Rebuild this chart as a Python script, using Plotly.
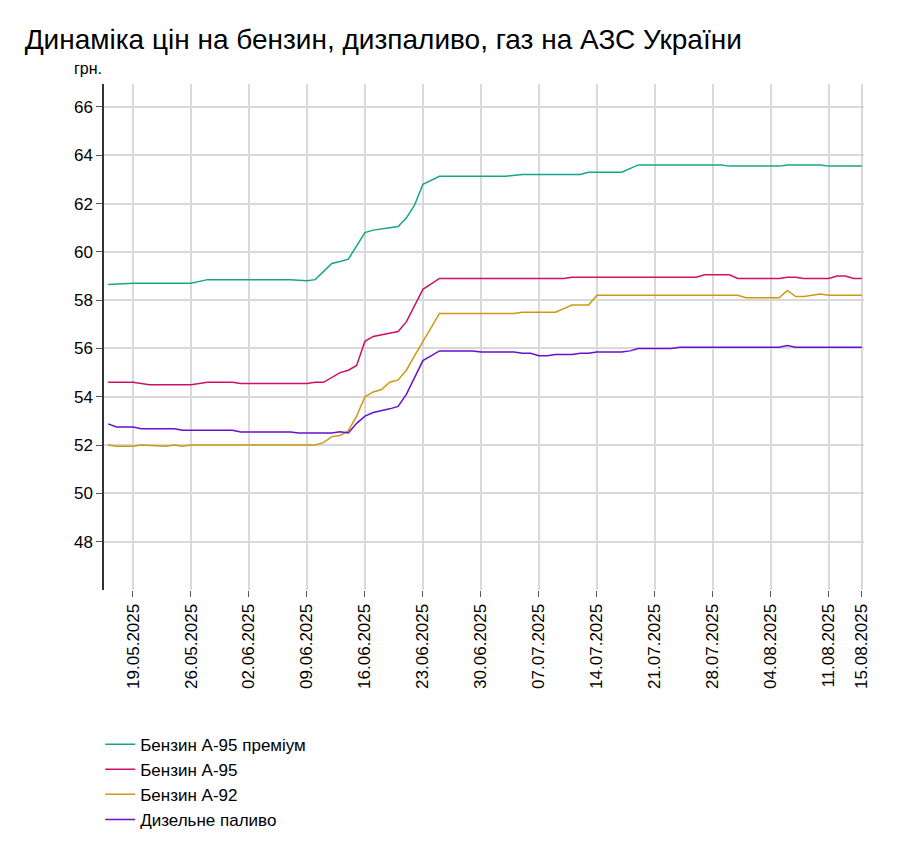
import plotly.graph_objects as go

premium_dates = ["2025-05-16", "2025-05-19", "2025-05-26", "2025-05-28", "2025-06-07", "2025-06-09", "2025-06-10",
                 "2025-06-12", "2025-06-13", "2025-06-14", "2025-06-16", "2025-06-17", "2025-06-19", "2025-06-20",
                 "2025-06-21", "2025-06-22", "2025-06-23", "2025-06-25", "2025-07-03", "2025-07-05", "2025-07-12",
                 "2025-07-13", "2025-07-17", "2025-07-19", "2025-07-29", "2025-07-30", "2025-08-05", "2025-08-06",
                 "2025-08-10", "2025-08-11", "2025-08-15"]
premium_vals = [58.65, 58.7, 58.7, 58.85, 58.85, 58.8, 58.85,
                59.52, 59.6, 59.7, 60.8, 60.9, 61.0, 61.05,
                61.4, 61.94, 62.8, 63.13, 63.13, 63.2, 63.2,
                63.3, 63.3, 63.6, 63.6, 63.55, 63.55, 63.6,
                63.6, 63.55, 63.55]

a95_dates = ["2025-05-16", "2025-05-19", "2025-05-21", "2025-05-26", "2025-05-28", "2025-05-31", "2025-06-01",
             "2025-06-09", "2025-06-10", "2025-06-11", "2025-06-13", "2025-06-14", "2025-06-15", "2025-06-16",
             "2025-06-17", "2025-06-19", "2025-06-20", "2025-06-21", "2025-06-22", "2025-06-23", "2025-06-25",
             "2025-07-10", "2025-07-11", "2025-07-26", "2025-07-27", "2025-07-30", "2025-07-31", "2025-08-05",
             "2025-08-06", "2025-08-07", "2025-08-08", "2025-08-11", "2025-08-12", "2025-08-13", "2025-08-14",
             "2025-08-15"]
a95_vals = [54.6, 54.6, 54.5, 54.5, 54.6, 54.6, 54.55,
            54.55, 54.6, 54.6, 55.0, 55.1, 55.3, 56.3,
            56.5, 56.65, 56.7, 57.1, 57.8, 58.45, 58.9,
            58.9, 58.95, 58.95, 59.05, 59.05, 58.9, 58.9,
            58.95, 58.95, 58.9, 58.9, 59.0, 59.0, 58.9,
            58.9]

a92_dates = ["2025-05-16", "2025-05-17", "2025-05-19", "2025-05-20", "2025-05-23", "2025-05-24", "2025-05-25",
             "2025-05-26", "2025-06-10", "2025-06-11", "2025-06-12", "2025-06-13", "2025-06-14", "2025-06-15",
             "2025-06-16", "2025-06-17", "2025-06-18", "2025-06-19", "2025-06-20", "2025-06-21", "2025-06-22",
             "2025-06-23", "2025-06-25", "2025-07-04", "2025-07-05", "2025-07-09", "2025-07-11", "2025-07-13",
             "2025-07-14", "2025-07-31", "2025-08-01", "2025-08-05", "2025-08-06", "2025-08-07", "2025-08-08",
             "2025-08-10", "2025-08-11", "2025-08-15"]
a92_vals = [52.0, 51.95, 51.95, 52.0, 51.95, 52.0, 51.95,
            52.0, 52.0, 52.1, 52.35, 52.4, 52.6, 53.2,
            54.0, 54.2, 54.3, 54.6, 54.7, 55.1, 55.7,
            56.3, 57.45, 57.45, 57.5, 57.5, 57.8, 57.8,
            58.2, 58.2, 58.1, 58.1, 58.4, 58.15, 58.15,
            58.25, 58.2, 58.2]

diesel_dates = ["2025-05-16", "2025-05-17", "2025-05-19", "2025-05-20", "2025-05-24", "2025-05-25", "2025-05-31",
                "2025-06-01", "2025-06-07", "2025-06-08", "2025-06-12", "2025-06-13", "2025-06-14", "2025-06-15",
                "2025-06-16", "2025-06-17", "2025-06-19", "2025-06-20", "2025-06-21", "2025-06-22", "2025-06-23",
                "2025-06-25", "2025-06-29", "2025-06-30", "2025-07-04", "2025-07-05", "2025-07-06", "2025-07-07",
                "2025-07-08", "2025-07-09", "2025-07-11", "2025-07-12", "2025-07-13", "2025-07-14", "2025-07-17",
                "2025-07-18", "2025-07-19", "2025-07-23", "2025-07-24", "2025-08-05", "2025-08-06", "2025-08-07",
                "2025-08-15"]
diesel_vals = [52.88, 52.75, 52.75, 52.68, 52.68, 52.61, 52.61,
               52.54, 52.54, 52.5, 52.5, 52.55, 52.5, 52.9,
               53.2, 53.35, 53.5, 53.6, 54.1, 54.8, 55.5,
               55.9, 55.9, 55.85, 55.85, 55.8, 55.8, 55.7,
               55.7, 55.75, 55.75, 55.8, 55.8, 55.85, 55.85,
               55.9, 56.0, 56.0, 56.05, 56.05, 56.12, 56.05,
               56.05]

series = [
    ("Бензин А-95 преміум", premium_dates, premium_vals, "#16a589"),
    ("Бензин А-95", a95_dates, a95_vals, "#cc1166"),
    ("Бензин А-92", a92_dates, a92_vals, "#cc9911"),
    ("Дизельне паливо", diesel_dates, diesel_vals, "#6611cc"),
]

tick_dates = ["2025-05-19", "2025-05-26", "2025-06-02", "2025-06-09", "2025-06-16", "2025-06-23", "2025-06-30",
              "2025-07-07", "2025-07-14", "2025-07-21", "2025-07-28", "2025-08-04", "2025-08-11", "2025-08-15"]
tick_text = ["19.05.2025", "26.05.2025", "02.06.2025", "09.06.2025", "16.06.2025", "23.06.2025", "30.06.2025",
             "07.07.2025", "14.07.2025", "21.07.2025", "28.07.2025", "04.08.2025", "11.08.2025", "15.08.2025"]

fig = go.Figure()
for name, d, v, c in series:
    fig.add_trace(go.Scatter(x=d, y=v, mode="lines", name=name, line=dict(color=c, width=1.5)))

fig.update_layout(
    width=924, height=841,
    font=dict(family="Liberation Sans, Arial", size=17, color="#000"),
    title=dict(text="Динаміка цін на бензин, дизпаливо, газ на АЗС України", x=0.018, y=0.975,
               xanchor="left", font=dict(size=28)),
    plot_bgcolor="white", paper_bgcolor="white",
    margin=dict(l=96, r=68, t=76, b=241),
    legend=dict(orientation="v", x=-0.005, y=-0.27, xanchor="left", yanchor="top", font=dict(size=17),
                tracegroupgap=0),
    annotations=[dict(text="грн.", xref="paper", yref="paper", x=0, y=1.01, xanchor="right",
                      yanchor="bottom", showarrow=False, font=dict(size=16))],
)
fig.update_xaxes(range=["2025-05-15 12:00", "2025-08-15 06:00"], tickvals=tick_dates, ticktext=tick_text,
                 tickangle=-90, showgrid=True, gridcolor="#d9d9d9", gridwidth=1.5, ticks="outside",
                 ticklen=6, tickcolor="#555", showline=False, zeroline=False)
fig.update_yaxes(range=[46, 66.95], tickvals=[48, 50, 52, 54, 56, 58, 60, 62, 64, 66], showgrid=True,
                 gridcolor="#d9d9d9", gridwidth=1.5, ticks="outside", ticklen=6, tickcolor="#555",
                 showline=True, linecolor="#333", linewidth=1.5, zeroline=False)

fig.write_html("out.html")
